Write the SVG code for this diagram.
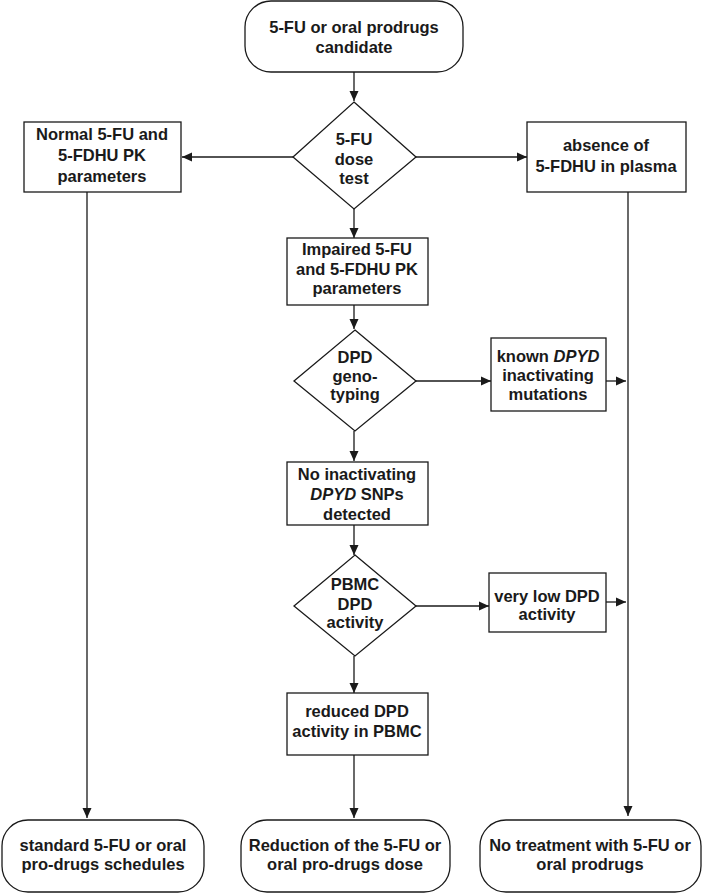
<svg xmlns="http://www.w3.org/2000/svg" width="709" height="893" viewBox="0 0 709 893">
<style>
text{font-family:"Liberation Sans",Arial,sans-serif;font-weight:bold;font-size:16.5px;fill:#1a1a1a;text-anchor:middle}
.box{fill:#fff;stroke:#1a1a1a;stroke-width:1.3}
.ln{fill:none;stroke:#1a1a1a;stroke-width:1.3}
.it{font-style:italic}
</style>
<defs>
<marker id="ah" markerUnits="userSpaceOnUse" markerWidth="12" markerHeight="12" viewBox="0 0 12 12" refX="11" refY="6" orient="auto">
<path d="M1,1.5 L11,6 L1,10.5 Z" fill="#1a1a1a"/>
</marker>
</defs>
<rect width="709" height="893" fill="#fff"/>
<g id="connectors">
<line class="ln" x1="354" y1="72" x2="354" y2="101" marker-end="url(#ah)"/>
<line class="ln" x1="293" y1="157" x2="182" y2="157" marker-end="url(#ah)"/>
<line class="ln" x1="416" y1="157" x2="527" y2="157" marker-end="url(#ah)"/>
<line class="ln" x1="354" y1="209" x2="354" y2="238" marker-end="url(#ah)"/>
<line class="ln" x1="354" y1="305" x2="354" y2="329" marker-end="url(#ah)"/>
<line class="ln" x1="416" y1="381" x2="491" y2="381" marker-end="url(#ah)"/>
<line class="ln" x1="606" y1="381" x2="626" y2="381" marker-end="url(#ah)"/>
<line class="ln" x1="354" y1="431" x2="354" y2="461" marker-end="url(#ah)"/>
<line class="ln" x1="354" y1="525" x2="354" y2="555" marker-end="url(#ah)"/>
<line class="ln" x1="416" y1="606" x2="489" y2="606" marker-end="url(#ah)"/>
<line class="ln" x1="606" y1="602" x2="626" y2="602" marker-end="url(#ah)"/>
<line class="ln" x1="354" y1="656" x2="354" y2="693" marker-end="url(#ah)"/>
<line class="ln" x1="354" y1="755" x2="354" y2="818" marker-end="url(#ah)"/>
<line class="ln" x1="87" y1="192" x2="87" y2="818" marker-end="url(#ah)"/>
<line class="ln" x1="628" y1="192" x2="628" y2="816" marker-end="url(#ah)"/>
</g>
<g id="start">
<rect class="box" x="245" y="1" width="218" height="71" rx="26"/>
<text x="354" y="33">5-FU or oral prodrugs</text>
<text x="354" y="53">candidate</text>
</g>
<g id="dose_test">
<polygon class="box" points="354,102 416,157 354,209 293,157"/>
<text x="354" y="145">5-FU</text>
<text x="354" y="165">dose</text>
<text x="354" y="184">test</text>
</g>
<g id="normal_pk">
<rect class="box" x="24" y="122" width="157" height="70"/>
<text x="102" y="140">Normal 5-FU and</text>
<text x="102" y="161">5-FDHU PK</text>
<text x="102" y="182">parameters</text>
</g>
<g id="absence">
<rect class="box" x="527" y="122" width="159" height="70"/>
<text x="606" y="151">absence of</text>
<text x="606" y="172">5-FDHU in plasma</text>
</g>
<g id="impaired_pk">
<rect class="box" x="287" y="238" width="141" height="67"/>
<text x="357" y="255">Impaired 5-FU</text>
<text x="357" y="275">and 5-FDHU PK</text>
<text x="357" y="294">parameters</text>
</g>
<g id="genotyping">
<polygon class="box" points="355,330 416,381 355,431 294,381"/>
<text x="355" y="363">DPD</text>
<text x="355" y="382">geno-</text>
<text x="355" y="400">typing</text>
</g>
<g id="known_mut">
<rect class="box" x="491" y="338" width="115" height="73"/>
<text x="548" y="362">known <tspan class="it">DPYD</tspan></text>
<text x="548" y="381">inactivating</text>
<text x="548" y="400">mutations</text>
</g>
<g id="no_snps">
<rect class="box" x="287" y="462" width="141" height="63"/>
<text x="357" y="480">No inactivating</text>
<text x="357" y="500"><tspan class="it">DPYD</tspan> SNPs</text>
<text x="357" y="520">detected</text>
</g>
<g id="pbmc">
<polygon class="box" points="355,555 416,606 355,656 294,606"/>
<text x="355" y="590">PBMC</text>
<text x="355" y="610">DPD</text>
<text x="355" y="628">activity</text>
</g>
<g id="very_low">
<rect class="box" x="489" y="573" width="117" height="59"/>
<text x="547" y="602">very low DPD</text>
<text x="547" y="620">activity</text>
</g>
<g id="reduced">
<rect class="box" x="287" y="693" width="141" height="62"/>
<text x="357" y="717">reduced DPD</text>
<text x="357" y="737">activity in PBMC</text>
</g>
<g id="standard">
<rect class="box" x="2" y="820" width="202" height="72" rx="26"/>
<text x="103" y="851">standard 5-FU or oral</text>
<text x="103" y="870">pro-drugs schedules</text>
</g>
<g id="reduction">
<rect class="box" x="241" y="820" width="209" height="72" rx="26"/>
<text x="345" y="851">Reduction of the 5-FU or</text>
<text x="345" y="870">oral pro-drugs dose</text>
</g>
<g id="no_treatment">
<rect class="box" x="480" y="820" width="221" height="72" rx="26"/>
<text x="590" y="851">No treatment with 5-FU or</text>
<text x="590" y="870">oral prodrugs</text>
</g>
</svg>
